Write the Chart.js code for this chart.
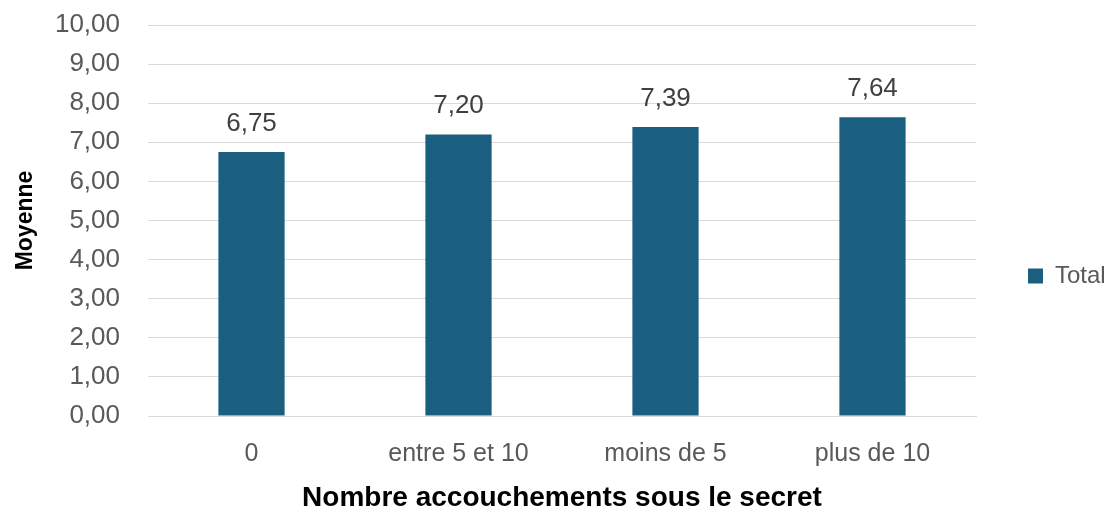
<!DOCTYPE html>
<html>
<head>
<meta charset="utf-8">
<script src="https://cdn.jsdelivr.net/npm/chart.js@4"></script>
<style>
html,body{margin:0;padding:0;background:#fff;}
#wrap{width:1113px;height:512px;}
</style>
</head>
<body>
<div id="wrap"><canvas id="c" width="1113" height="512"></canvas></div>
<script>
const categories = ["0", "entre 5 et 10", "moins de 5", "plus de 10"];
const totalValues = [6.75, 7.20, 7.39, 7.64];
const seriesLabel = "Total";
const yTitle = "Moyenne";
const xTitle = "Nombre accouchements sous le secret";

const fmt = v => Number(v).toFixed(2).replace('.', ',');
const FONT = "'Liberation Sans', Arial, sans-serif";

const valueLabels = {
  id: 'valueLabels',
  afterDatasetsDraw(chart) {
    const ctx = chart.ctx;
    ctx.save();
    ctx.font = "26px " + FONT;
    ctx.fillStyle = "#404040";
    ctx.textAlign = "center";
    ctx.textBaseline = "alphabetic";
    chart.data.datasets.forEach((ds, di) => {
      const meta = chart.getDatasetMeta(di);
      meta.data.forEach((bar, i) => {
        ctx.fillText(fmt(ds.data[i]), bar.x, bar.y - 21);
      });
    });
    ctx.restore();
  }
};

const legendFix = {
  id: 'legendFix',
  beforeLayout(chart) {
    const lg = chart.legend;
    if (lg && !lg._patched) {
      const orig = lg.fit;
      lg.fit = function () { orig.call(this); this.width = 137; };
      lg._patched = true;
    }
  },
  afterLayout(chart) {
    const lg = chart.legend;
    if (lg) {
      const shift = 276 - (lg.top + lg.bottom) / 2;
      lg.top += shift;
      lg.bottom += shift;
    }
  }
};

new Chart(document.getElementById('c'), {
  type: 'bar',
  data: {
    labels: categories,
    datasets: [{
      label: seriesLabel,
      data: totalValues,
      backgroundColor: '#1a5e80',
      borderWidth: 0,
      categoryPercentage: 1.0,
      barPercentage: 0.32
    }]
  },
  options: {
    responsive: false,
    animation: false,
    layout: { padding: { top: 25, right: 0, bottom: 0, left: 0 } },
    plugins: {
      legend: {
        position: 'right',
        labels: {
          boxWidth: 15,
          boxHeight: 15,
          padding: 52,
          color: '#595959',
          font: { family: FONT, size: 24 }
        }
      },
      tooltip: { enabled: false }
    },
    scales: {
      x: {
        offset: true,
        grid: { display: false, drawTicks: false },
        border: { display: true, color: '#d9d9d9', width: 1 },
        ticks: { color: '#595959', font: { family: FONT, size: 25 }, padding: 23, maxRotation: 0 },
        title: {
          display: true, text: xTitle, color: '#000000',
          font: { family: FONT, size: 28, weight: 'bold', lineHeight: 1 },
          padding: { top: 0, bottom: 0 }
        },
        afterFit(scale) { scale.height = 96; scale.paddingLeft = 0; scale.paddingRight = 0; }
      },
      y: {
        min: 0, max: 10,
        ticks: { stepSize: 1, color: '#595959', font: { family: FONT, size: 26 }, padding: 28,
          callback: v => fmt(v) },
        grid: { color: '#d9d9d9', drawTicks: false, lineWidth: 1 },
        border: { display: false },
        title: {
          display: true, text: yTitle, color: '#000000',
          font: { family: FONT, size: 23, weight: 'bold', lineHeight: 1 },
          padding: { top: 14, bottom: 0 }
        },
        afterFit(scale) { scale.width = 148; scale.paddingTop = 0; scale.paddingBottom = 0; }
      }
    }
  },
  plugins: [valueLabels, legendFix]
});
</script>
</body>
</html>
